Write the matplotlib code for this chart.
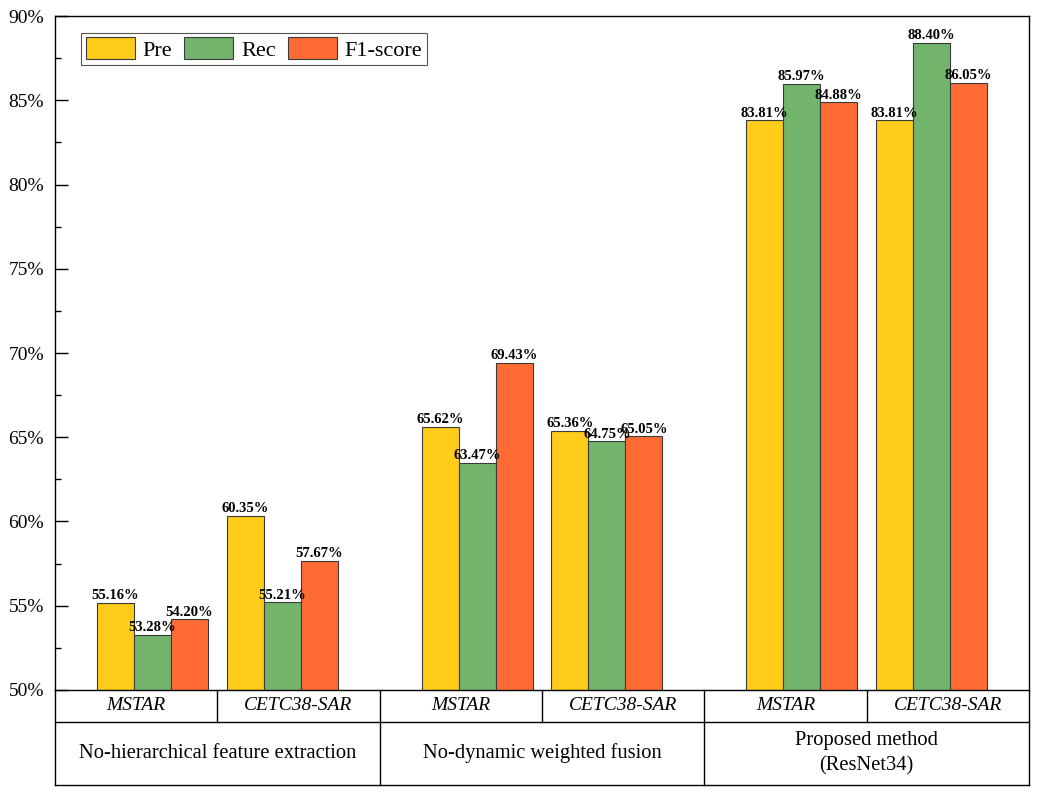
import matplotlib
matplotlib.use('Agg')
import matplotlib.pyplot as plt
from matplotlib.ticker import MultipleLocator, FuncFormatter
import numpy as np

plt.rcParams['font.family'] = ['Liberation Serif', 'DejaVu Serif']

# data
datasets = ['MSTAR', 'CETC38-SAR', 'MSTAR', 'CETC38-SAR', 'MSTAR', 'CETC38-SAR']
methods = ['No-hierarchical feature extraction', 'No-dynamic weighted fusion',
           'Proposed method\n(ResNet34)']
series = ['Pre', 'Rec', 'F1-score']
pre = [55.16, 60.35, 65.62, 65.36, 83.81, 83.81]
rec = [53.28, 55.21, 63.47, 64.75, 85.97, 88.40]
f1 = [54.20, 57.67, 69.43, 65.05, 84.88, 86.05]
colors = ['#FFCC1A', '#72B46C', '#FF6B33']

group_x = np.array([1, 2, 3.5, 4.5, 6, 7])
width = 0.285

fig = plt.figure(figsize=(10.38, 7.94), dpi=100)
ax = fig.add_axes([0.053, 0.131, 0.9383, 0.8488])

for i, (vals, c, name) in enumerate(zip([pre, rec, f1], colors, series)):
    xs = group_x + (i - 1) * width
    ax.bar(xs, vals, width, color=c, edgecolor='#3a3a3a', linewidth=0.8, label=name)
    for x, v in zip(xs, vals):
        ax.annotate(f'{v:.2f}%', (x, v), xytext=(0, 0.5), textcoords='offset points',
                    ha='center', va='bottom', fontsize=10.5, fontweight='bold')

ax.set_xlim(0.25, 7.75)
ax.set_ylim(50, 90)
ax.yaxis.set_major_locator(MultipleLocator(5))
ax.yaxis.set_minor_locator(MultipleLocator(2.5))
ax.yaxis.set_major_formatter(FuncFormatter(lambda v, p: f'{v:.0f}%'))
ax.tick_params(axis='y', which='major', direction='in', length=9.5, width=1, labelsize=14, pad=8)
ax.tick_params(axis='y', which='minor', direction='in', length=4.5, width=1)
ax.tick_params(axis='x', bottom=False, labelbottom=False)
for s in ax.spines.values():
    s.set_linewidth(1.0)

leg = ax.legend(loc='upper left', ncol=3, fontsize=16, frameon=True, fancybox=False,
                edgecolor='#555555', framealpha=1, handlelength=2.2, handleheight=1.1,
                handletextpad=0.35, columnspacing=0.55, borderpad=0.2,
                bbox_to_anchor=(0.027, 0.975), borderaxespad=0)
leg.get_frame().set_linewidth(0.8)

# table below the axes
r1 = -0.0475
r2 = -0.141
kw = dict(transform=ax.transAxes, clip_on=False, color='black', lw=1.0)
ax.plot([0, 1], [r1, r1], **kw)
ax.plot([0, 1], [r2, r2], **kw)
for xv in [0, 1/3, 2/3, 1]:
    ax.plot([xv, xv], [0, r2], **kw)
for xv in [1/6, 3/6, 5/6]:
    ax.plot([xv, xv], [0, r1], **kw)

n = len(datasets)
for i, d in enumerate(datasets):
    ax.text((i + 0.5) / n, r1 / 2, d, transform=ax.transAxes, ha='center', va='center',
            fontsize=14, style='italic')
m = len(methods)
for j, name in enumerate(methods):
    ax.text((j + 0.5) / m, (r1 + r2) / 2, name, transform=ax.transAxes, ha='center',
            va='center', fontsize=14.8, linespacing=1.45)

fig.savefig('out.png', dpi=100)
